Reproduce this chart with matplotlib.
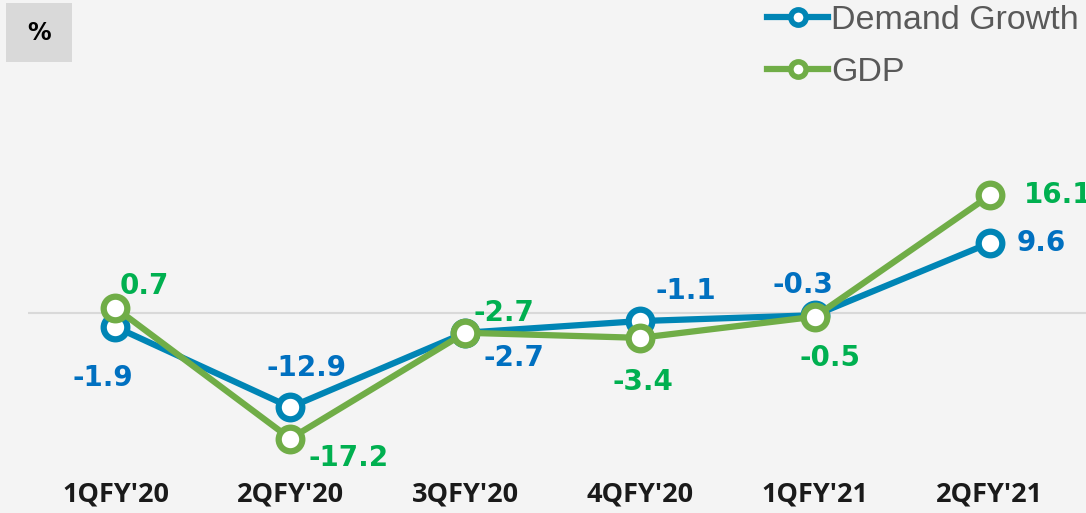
import matplotlib
matplotlib.use("Agg")
import matplotlib.pyplot as plt
from matplotlib.lines import Line2D
from matplotlib.patches import Rectangle

quarters = ["1QFY'20", "2QFY'20", "3QFY'20", "4QFY'20", "1QFY'21", "2QFY'21"]
demand = [-1.9, -12.9, -2.7, -1.1, -0.3, 9.6]
gdp = [0.7, -17.2, -2.7, -3.4, -0.5, 16.1]

# label offsets in points (dx, dy) for each point
demand_off = [(-9, -37), (12, 28), (35, -18), (33, 22), (-9, 22), (37, 0)]
gdp_off = [(21, 16), (42, -14), (28, 14), (2, -32), (11, -30), (49, 0)]

BG = "#f4f4f4"
BLUE = "#0085b5"
GREEN = "#70ad47"
BLUE_TXT = "#0070c0"
GREEN_TXT = "#00b050"

fig = plt.figure(figsize=(10.86, 5.13), dpi=100, facecolor=BG)
ax = fig.add_axes([28 / 1086, 43 / 513, 1058 / 1086, 340 / 513])
ax.set_facecolor(BG)

x = list(range(len(quarters)))
ax.axhline(0, color="#d9d9d9", lw=1.5, zorder=1)

mk = dict(marker="o", ms=17, mew=4.5, mfc="white", lw=4.5, solid_joinstyle="round")
ax.plot(x, demand, color=BLUE, mec=BLUE, zorder=3, **mk)
ax.plot(x, gdp, color=GREEN, mec=GREEN, zorder=4, **mk)

lab_font = dict(fontsize=20, fontweight="bold", family="DejaVu Sans",
                ha="center", va="center")
for xi, v, off in zip(x, demand, demand_off):
    ax.annotate(f"{v:.1f}", (xi, v), xytext=off, textcoords="offset points",
                color=BLUE_TXT, zorder=5, **lab_font)
for xi, v, off in zip(x, gdp, gdp_off):
    ax.annotate(f"{v:.1f}", (xi, v), xytext=off, textcoords="offset points",
                color=GREEN_TXT, zorder=5, **lab_font)

ax.set_xlim(-0.50, 5.55)
ax.set_ylim(-21.5, 25.07)
ax.set_xticks(x)
ax.set_xticklabels(quarters, fontsize=19.5, fontweight="bold",
                   family=["Open Sans", "DejaVu Sans"])
ax.tick_params(axis="x", length=0, pad=8, colors="#1a1a1a")
ax.set_yticks([])
for s in ax.spines.values():
    s.set_visible(False)

# "%" badge top left
fig.patches.append(Rectangle((6 / 1086, 1 - 62 / 513), 66 / 1086, 59 / 513,
                             transform=fig.transFigure, fc="#d9d9d9", ec="none"))
fig.text(39 / 1086, 1 - 33 / 513, "%", fontsize=17, fontweight="bold", ha="center", va="center")

handles = [Line2D([], [], color=BLUE, lw=4.5, marker="o", ms=11, mew=4, mfc="white", mec=BLUE),
           Line2D([], [], color=GREEN, lw=4.5, marker="o", ms=11, mew=4, mfc="white", mec=GREEN)]
leg = fig.legend(handles, ["Demand Growth", "GDP"], loc="upper left",
                 bbox_to_anchor=(750 / 1086, 1 + 12 / 513), frameon=False,
                 prop=dict(family="Liberation Sans", size=24.5),
                 handlelength=1.8, handletextpad=0.08, labelspacing=0.62, borderpad=0)
for t in leg.get_texts():
    t.set_color("#595959")

fig.savefig("out.png", dpi=100, facecolor=BG)
